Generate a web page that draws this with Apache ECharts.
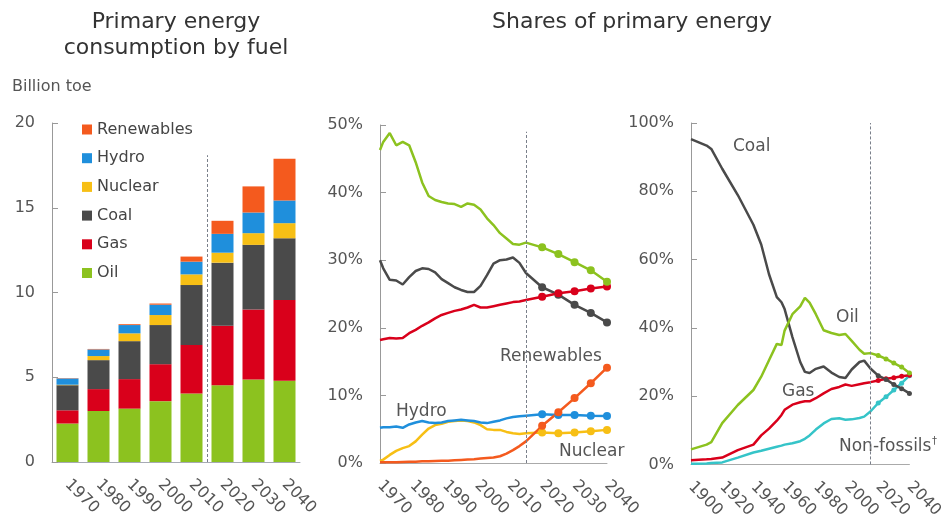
<!DOCTYPE html>
<html><head><meta charset="utf-8">
<script src="https://cdn.jsdelivr.net/npm/echarts@6/dist/echarts.min.js"></script>
<style>html,body{margin:0;padding:0;background:#fff;} #c{width:946px;height:521px;}</style>
</head><body><div id="c"></div>
<script>
// ---------- Panel 1: consumption by fuel (billion toe) ----------
const decades    = ['1970','1980','1990','2000','2010','2020','2030','2040'];
const barOil     = [2.27,3.01,3.15,3.59,4.04,4.53,4.87,4.79];
const barGas     = [0.78,1.29,1.74,2.18,2.86,3.51,4.13,4.77];
const barCoal    = [1.48,1.71,2.24,2.31,3.54,3.72,3.81,3.64];
const barNuclear = [0.03,0.24,0.46,0.59,0.63,0.59,0.69,0.89];
const barHydro   = [0.37,0.39,0.49,0.61,0.75,1.11,1.22,1.34];
const barRenew   = [0.02,0.03,0.05,0.07,0.30,0.77,1.54,2.46];
const barTicks   = [0,5,10,15,20];

// ---------- Panel 2: shares 1970-2040 (%) ----------
const shareYears   = [1970,1971,1973,1975,1977,1979,1981,1983,1985,1987,1989,1991,1993,1995,1997,1999,2001,2003,2005,2007,2009,2011,2013,2015,2020,2025,2030,2035,2040];
const shareOil     = [46.3,47.5,48.8,47.0,47.5,47.0,44.5,41.5,39.5,38.9,38.6,38.4,38.3,37.9,38.4,38.2,37.5,36.2,35.2,34.0,33.2,32.4,32.3,32.6,31.9,30.9,29.7,28.5,26.8];
const shareCoal    = [30.0,28.8,27.1,27.0,26.4,27.5,28.4,28.8,28.7,28.2,27.2,26.6,26.0,25.6,25.3,25.3,26.2,27.8,29.5,30.0,30.1,30.4,29.6,28.1,26.0,24.9,23.4,22.2,20.8];
const shareGas     = [18.2,18.3,18.5,18.4,18.5,19.2,19.7,20.3,20.8,21.4,21.9,22.2,22.5,22.7,23.0,23.4,23.0,23.0,23.2,23.4,23.6,23.8,23.9,24.1,24.6,25.1,25.4,25.8,26.1];
const shareHydro   = [5.2,5.3,5.3,5.4,5.2,5.7,6.0,6.2,6.0,5.9,6.0,6.2,6.3,6.4,6.3,6.2,6.0,5.9,6.1,6.3,6.6,6.8,6.9,7.0,7.2,7.1,7.1,7.0,6.95];
const shareNuclear = [0.3,0.5,1.2,1.8,2.2,2.5,3.2,4.2,5.1,5.6,5.8,6.1,6.2,6.3,6.2,6.0,5.6,5.0,4.9,4.9,4.6,4.4,4.3,4.4,4.5,4.4,4.5,4.7,4.9];
const shareRenew   = [0.1,0.1,0.1,0.1,0.15,0.2,0.2,0.25,0.25,0.3,0.35,0.35,0.4,0.45,0.5,0.55,0.65,0.75,0.8,1.0,1.4,1.9,2.5,3.2,5.5,7.5,9.6,11.8,14.1];

// ---------- Panel 3: shares 1900-2040 (%) ----------
const longYears   = [1900,1910,1913,1920,1930,1940,1945,1950,1955,1958,1960,1965,1970,1973,1976,1980,1985,1990,1995,1999,2003,2008,2011,2015,2020,2025,2030,2035,2040];
const longCoal    = [95.3,93.4,92.4,86.6,78.9,70.2,64.4,55.7,49.0,47.5,45.5,37.3,30.0,27.1,26.8,28.0,28.7,26.9,25.6,25.3,27.8,30.0,30.4,28.1,26.0,24.9,23.4,22.2,20.8];
const longOil     = [4.4,5.8,6.5,12.1,17.4,21.8,25.7,30.5,35.3,35.0,39.2,44.0,46.3,48.8,47.4,44.0,39.3,38.5,37.9,38.2,36.2,33.6,32.4,32.6,31.9,30.9,29.7,28.5,26.8];
const longGas     = [1.2,1.5,1.6,2.0,4.2,5.8,8.5,10.5,12.8,14.5,16.0,17.5,18.2,18.5,18.5,19.4,20.8,22.1,22.7,23.4,23.0,23.5,23.8,24.1,24.6,25.1,25.4,25.8,26.1];
const longNonFossil = [0.2,0.3,0.4,0.6,2.0,3.5,4.0,4.6,5.2,5.5,5.8,6.2,6.8,7.5,8.5,10.2,12.0,13.3,13.5,13.1,13.2,13.6,14.0,15.5,18.0,19.8,21.8,23.8,26.0];

const projectionStart = 2015;   // dashed divider (history | outlook)
const firstOutlookYear = 2020;  // dots on outlook points

const C = {oil:'#8cc21f', gas:'#d9001b', coal:'#4a4a4a', nuclear:'#f7bf15', hydro:'#1f8fdc', renew:'#f45a1e', nonfossil:'#35c4c8'};
const FONT = 'DejaVu Sans';
const TXT = '#555';

const pairs = (xs, ys) => xs.map((x,i)=>[x, ys[i]]);

function shareLine(name, xi, yi, xs, ys, color, dot){
  return {
    name, type:'line', xAxisIndex:xi, yAxisIndex:yi,
    data: pairs(xs, ys), color,
    lineStyle:{width:2.5, color}, itemStyle:{color},
    symbol:'circle', showSymbol:true, showAllSymbol:true,
    symbolSize: v => v[0] >= firstOutlookYear ? dot : 0,
    smooth:false, silent:true, z:3
  };
}
function bar(name, data, color){
  return {name, type:'bar', stack:'total', xAxisIndex:0, yAxisIndex:0, data, barWidth:22, itemStyle:{color}, silent:true};
}

const yAxisCommon = {
  type:'value', splitLine:{show:false},
  axisLine:{show:true, lineStyle:{color:'#999', width:1}},
  axisTick:{show:true, inside:true, length:6, lineStyle:{color:'#999'}},
  axisLabel:{fontSize:16, color:TXT, fontFamily:FONT, margin:17}
};
const xLabel = {fontSize:16, color:TXT, fontFamily:FONT, rotate:-45, margin:20};

const option = {
  animation:false,
  backgroundColor:'#fff',
  grid:[
    {left:52, top:123, width:248, height:339},
    {left:380, top:125, width:227, height:338},
    {left:691, top:123, width:219, height:345}
  ],
  xAxis:[
    {type:'category', gridIndex:0, data:decades, axisLine:{lineStyle:{color:'#a6aab4'}}, axisTick:{show:false}, axisLabel:xLabel},
    {type:'value', gridIndex:1, min:1970, max:2040, interval:10, splitLine:{show:false}, axisLine:{show:true, onZero:false, lineStyle:{color:'#aaa'}}, axisTick:{show:false}, axisLabel:Object.assign({formatter:v=>String(v)}, xLabel)},
    {type:'value', gridIndex:2, min:1900, max:2040, interval:20, splitLine:{show:false}, axisLine:{show:true, onZero:false, lineStyle:{color:'#aaa'}}, axisTick:{show:false}, axisLabel:Object.assign({formatter:v=>String(v)}, xLabel)},
    {type:'value', gridIndex:0, min:0, max:decades.length, show:false}
  ],
  yAxis:[
    Object.assign({}, yAxisCommon, {gridIndex:0, min:barTicks[0], max:barTicks[barTicks.length-1], interval:5}),
    Object.assign({}, yAxisCommon, {gridIndex:1, min:0, max:50, interval:10, axisLabel:Object.assign({}, yAxisCommon.axisLabel, {formatter:'{value}%'})}),
    Object.assign({}, yAxisCommon, {gridIndex:2, min:0, max:100, interval:20, axisLabel:Object.assign({}, yAxisCommon.axisLabel, {formatter:'{value}%'})})
  ],
  legend:{
    orient:'vertical', left:82, top:120, padding:0, itemWidth:10, itemHeight:10, itemGap:9.7, icon:'rect',
    textStyle:{fontSize:16, color:'#444', fontFamily:FONT, lineHeight:19},
    data:['Renewables','Hydro','Nuclear','Coal','Gas','Oil'], selectedMode:false
  },
  series:[
    bar('Oil', barOil, C.oil),
    bar('Gas', barGas, C.gas),
    bar('Coal', barCoal, C.coal),
    bar('Nuclear', barNuclear, C.nuclear),
    bar('Hydro', barHydro, C.hydro),
    bar('Renewables', barRenew, C.renew),
    {type:'line', xAxisIndex:3, yAxisIndex:0, data:[], silent:true,
     markLine:{symbol:'none', silent:true, label:{show:false}, lineStyle:{type:[3,2], color:'#7a7f8a', width:1},
       data:[[{coord:[5,0]},{coord:[5,18.1]}]]}},
    // panel 2
    shareLine('s-Nuclear',1,1,shareYears,shareNuclear,C.nuclear,8),
    shareLine('s-Hydro',1,1,shareYears,shareHydro,C.hydro,8),
    shareLine('s-Renew',1,1,shareYears,shareRenew,C.renew,8),
    shareLine('s-Coal',1,1,shareYears,shareCoal,C.coal,8),
    shareLine('s-Gas',1,1,shareYears,shareGas,C.gas,8),
    Object.assign(shareLine('s-Oil',1,1,shareYears,shareOil,C.oil,8), {
      markLine:{symbol:'none', silent:true, label:{show:false}, lineStyle:{type:[3,2], color:'#7a7f8a', width:1},
        data:[[{coord:[projectionStart,0]},{coord:[projectionStart,49]}]]}}),
    // panel 3
    shareLine('l-NonFossil',2,2,longYears,longNonFossil,C.nonfossil,5),
    shareLine('l-Gas',2,2,longYears,longGas,C.gas,5),
    shareLine('l-Coal',2,2,longYears,longCoal,C.coal,5),
    Object.assign(shareLine('l-Oil',2,2,longYears,longOil,C.oil,5), {
      markLine:{symbol:'none', silent:true, label:{show:false}, lineStyle:{type:[3,2], color:'#7a7f8a', width:1},
        data:[{xAxis:projectionStart}]}})
  ],
  graphic:[
    {type:'text', x:176, y:22, style:{text:'Primary energy', align:'center', verticalAlign:'middle', font:'22px "DejaVu Sans"', fill:'#333'}},
    {type:'text', x:176, y:48, style:{text:'consumption by fuel', align:'center', verticalAlign:'middle', font:'22px "DejaVu Sans"', fill:'#333'}},
    {type:'text', x:632, y:22, style:{text:'Shares of primary energy', align:'center', verticalAlign:'middle', font:'22px "DejaVu Sans"', fill:'#333'}},
    {type:'text', x:12, y:87, style:{text:'Billion toe', align:'left', verticalAlign:'middle', font:'16px "DejaVu Sans"', fill:'#555'}},
    {type:'text', x:396, y:412, style:{text:'Hydro', align:'left', verticalAlign:'middle', font:'17px "DejaVu Sans"', fill:'#555'}},
    {type:'text', x:500, y:357, style:{text:'Renewables', align:'left', verticalAlign:'middle', font:'17px "DejaVu Sans"', fill:'#555'}},
    {type:'text', x:559, y:452, style:{text:'Nuclear', align:'left', verticalAlign:'middle', font:'17px "DejaVu Sans"', fill:'#555'}},
    {type:'text', x:733, y:147, style:{text:'Coal', align:'left', verticalAlign:'middle', font:'17px "DejaVu Sans"', fill:'#555'}},
    {type:'text', x:836, y:318, style:{text:'Oil', align:'left', verticalAlign:'middle', font:'17px "DejaVu Sans"', fill:'#555'}},
    {type:'text', x:782, y:392, style:{text:'Gas', align:'left', verticalAlign:'middle', font:'17px "DejaVu Sans"', fill:'#555'}},
    {type:'text', x:839, y:447, style:{text:'Non-fossils', align:'left', verticalAlign:'middle', font:'17px "DejaVu Sans"', fill:'#555'}},
    {type:'text', x:932, y:441, style:{text:'†', align:'left', verticalAlign:'middle', font:'10px "DejaVu Sans"', fill:'#555'}}
  ]
};
const chart = echarts.init(document.getElementById('c'), null, {renderer:'canvas'});
chart.setOption(option);
</script>
</body></html>
